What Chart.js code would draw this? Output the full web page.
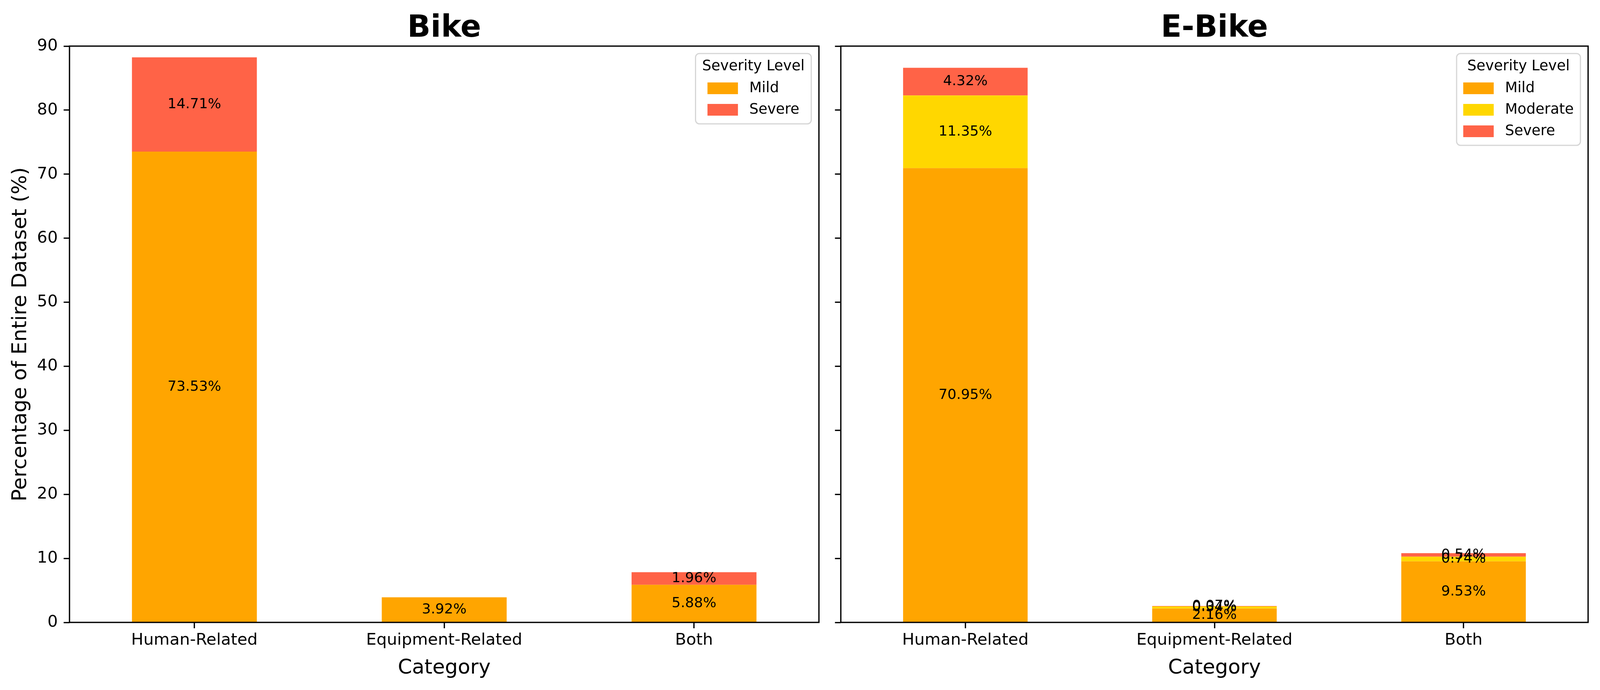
<!DOCTYPE html>
<html>
<head>
<meta charset="utf-8">
<script src="https://cdn.jsdelivr.net/npm/chart.js@4.4.1/dist/chart.umd.min.js"></script>
<style>
  html, body { margin: 0; padding: 0; overflow: hidden; background: #fff; }
  .panel { position: absolute; top: 0; }
  canvas { display: block; }
</style>
</head>
<body>
<div class="panel" id="p1"><canvas id="bike"></canvas></div>
<div class="panel" id="p2"><canvas id="ebike"></canvas></div>
<script>
const categories = ['Human-Related', 'Equipment-Related', 'Both'];
const bikeMild = [73.53, 3.92, 5.88];
const bikeSevere = [14.71, 0, 1.96];
const ebikeMild = [70.95, 2.16, 9.53];
const ebikeModerate = [11.35, 0.34, 0.74];
const ebikeSevere = [4.32, 0.07, 0.54];
const yTicks = [0, 10, 20, 30, 40, 50, 60, 70, 80, 90];

const MILD = '#FFA500', MODERATE = '#FFD700', SEVERE = '#FF6347';
const FONT = '"DejaVu Sans"';

// layout was measured on a 4167px wide figure; squeeze x to the real viewport
const W = window.innerWidth || 4167;
const H = 1766;
const kx = W / 4167;

Chart.defaults.font.family = FONT;
Chart.defaults.color = '#000';

// text on each bar segment, centred like bar_label(label_type='center')
const barLabels = {
    id: 'barLabels',
    afterDatasetsDraw(chart) {
        const ctx = chart.ctx;
        ctx.save();
        ctx.font = '36px ' + FONT;
        ctx.fillStyle = '#000';
        ctx.textAlign = 'center';
        ctx.textBaseline = 'middle';
        chart.data.datasets.forEach((ds, i) => {
            chart.getDatasetMeta(i).data.forEach((bar, j) => {
                const v = ds.data[j];
                if (!v) return;
                ctx.fillText(v.toFixed(2) + '%', bar.x, (bar.y + bar.base) / 2);
            });
        });
        ctx.restore();
    }
};

// axes box + panel title
const frame = {
    id: 'frame',
    afterDatasetsDraw(chart, args, opts) {
        const a = chart.chartArea;
        const ctx = chart.ctx;
        ctx.save();
        ctx.strokeStyle = '#000';
        ctx.lineWidth = 3.3;
        ctx.strokeRect(a.left, a.top, a.right - a.left, a.bottom - a.top);
        ctx.font = 'bold 78px ' + FONT;
        ctx.fillStyle = '#000';
        ctx.textAlign = 'center';
        ctx.textBaseline = 'alphabetic';
        ctx.fillText(opts.title, (a.left + a.right) / 2, 94);
        ctx.restore();
    }
};

const severityLegend = {
    id: 'severityLegend',
    afterDraw(chart, args, opts) {
        const ctx = chart.ctx;
        const a = chart.chartArea;
        const items = chart.data.datasets.map(d => ({ label: d.label, color: d.backgroundColor }));
        ctx.save();
        ctx.font = '37px ' + FONT;
        const titleW = ctx.measureText(opts.title).width;
        const textW = Math.max(...items.map(it => ctx.measureText(it.label).width));
        const patchW = 78, patchH = 30, gap = 29, rowH = 55;
        const blockW = patchW + gap + textW;
        const boxW = Math.max(titleW, blockW) + 34;
        const boxH = 89 + rowH * (items.length - 1) + 36;
        const x0 = a.right - 20 * kx - boxW, y0 = a.top + 19;
        ctx.beginPath();
        ctx.roundRect(x0, y0, boxW, boxH, 10);
        ctx.fillStyle = 'rgba(255,255,255,0.8)';
        ctx.fill();
        ctx.lineWidth = 3;
        ctx.strokeStyle = '#d6d6d6';
        ctx.stroke();
        ctx.fillStyle = '#000';
        ctx.textAlign = 'center';
        ctx.textBaseline = 'middle';
        ctx.fillText(opts.title, x0 + boxW / 2, y0 + 33);
        const bx = x0 + (boxW - blockW) / 2;
        ctx.textAlign = 'left';
        items.forEach((it, i) => {
            const cy = y0 + 89 + i * rowH;
            ctx.fillStyle = it.color;
            ctx.fillRect(bx, cy - patchH / 2, patchW, patchH);
            ctx.fillStyle = '#000';
            ctx.fillText(it.label, bx + patchW + gap, cy);
        });
        ctx.restore();
    }
};

function makeChart(id, panel, left, width, title, datasets, showY, yWidth, padRight) {
    const p = document.getElementById(panel);
    p.style.left = Math.round(left) + 'px';
    const cv = document.getElementById(id);
    cv.width = Math.round(width);
    cv.height = H;
    return new Chart(cv, {
        type: 'bar',
        data: { labels: categories, datasets: datasets },
        options: {
            responsive: false,
            animation: false,
            devicePixelRatio: 1,
            layout: { padding: { top: 118, right: padRight, left: 0, bottom: 0 } },
            datasets: { bar: { barPercentage: 0.5, categoryPercentage: 1.0 } },
            scales: {
                x: {
                    stacked: true,
                    border: { display: false },
                    grid: { offset: false, drawOnChartArea: false, drawTicks: true, tickLength: 15, tickWidth: 3.3, tickColor: '#000' },
                    ticks: { font: { size: 41.7 }, color: '#000', padding: 6, maxRotation: 0, autoSkip: false },
                    title: { display: true, text: 'Category', font: { size: 52 }, color: '#000', padding: { top: 0, bottom: 24 } },
                    afterFit(scale) { scale.height = 173; }
                },
                y: {
                    stacked: true,
                    min: 0,
                    max: 90,
                    border: { display: false },
                    afterBuildTicks(scale) { scale.ticks = yTicks.map(v => ({ value: v })); },
                    grid: { drawOnChartArea: false, drawTicks: true, tickLength: 15, tickWidth: 3.3, tickColor: '#000' },
                    ticks: {
                        font: { size: 41.7 }, color: '#000', padding: 15,
                        callback: v => showY ? String(v) : ''
                    },
                    title: { display: showY, text: 'Percentage of Entire Dataset (%)', font: { size: 52 }, color: '#000', padding: { top: 22, bottom: 0 } },
                    afterFit(scale) { scale.width = yWidth; }
                }
            },
            plugins: {
                legend: { display: false },
                tooltip: { enabled: false },
                title: { display: false },
                frame: { title: title },
                severityLegend: { title: 'Severity Level' }
            }
        },
        plugins: [barLabels, frame, severityLegend]
    });
}

makeChart('bike', 'p1', 0, 2160 * kx, 'Bike', [
    { label: 'Mild', data: bikeMild, backgroundColor: MILD },
    { label: 'Severe', data: bikeSevere, backgroundColor: SEVERE }
], true, 181 * kx, 27 * kx);

makeChart('ebike', 'p2', 2160 * kx, W - Math.round(2160 * kx), 'E-Bike', [
    { label: 'Mild', data: ebikeMild, backgroundColor: MILD },
    { label: 'Moderate', data: ebikeModerate, backgroundColor: MODERATE },
    { label: 'Severe', data: ebikeSevere, backgroundColor: SEVERE }
], false, 30 * kx, 31 * kx);
</script>
</body>
</html>
